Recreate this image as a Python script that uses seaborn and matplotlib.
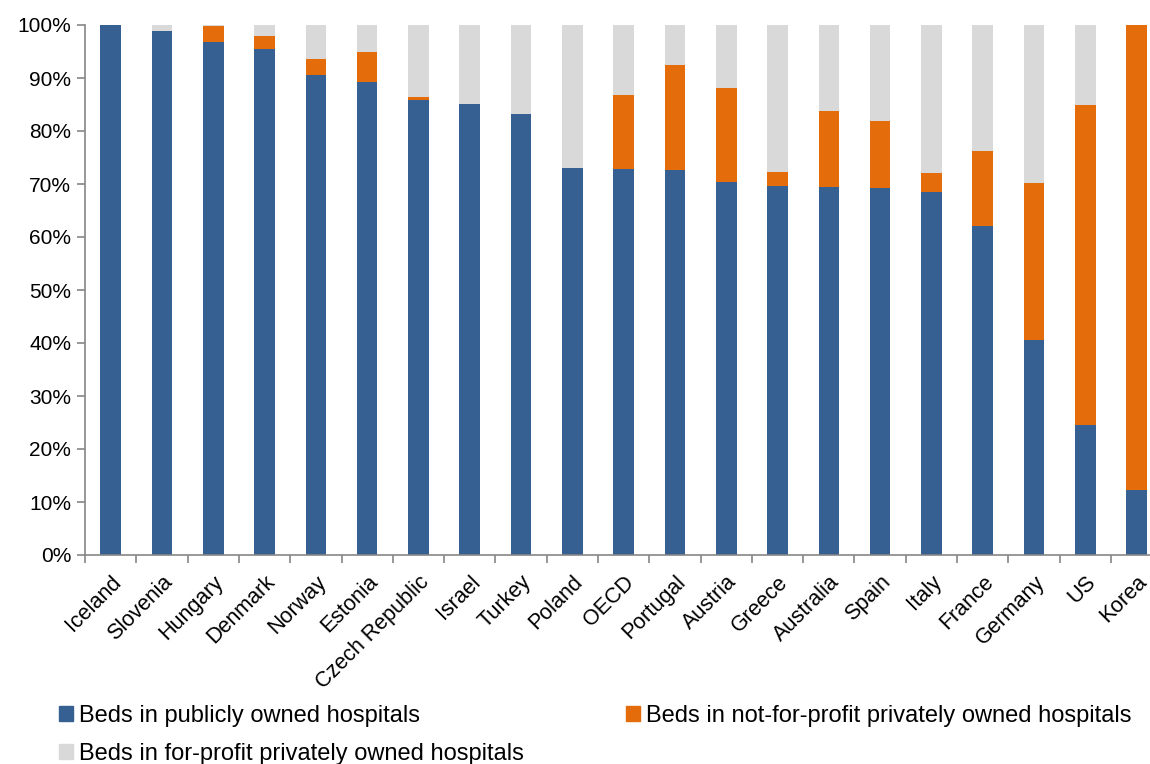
import pandas as pd
import matplotlib.pyplot as plt
import seaborn as sns
from matplotlib.patches import Patch


countries = ['Iceland', 'Slovenia', 'Hungary', 'Denmark', 'Norway', 'Estonia',
             'Czech Republic', 'Israel', 'Turkey', 'Poland', 'OECD', 'Portugal',
             'Austria', 'Greece', 'Australia', 'Spain', 'Italy', 'France',
             'Germany', 'US', 'Korea']
public = [100.0, 98.9, 96.8, 95.5, 90.6, 89.3, 85.8, 85.1, 83.2, 73.1, 72.9, 72.6,
          70.4, 69.6, 69.4, 69.2, 68.5, 62.1, 40.6, 24.5, 12.3]
not_for_profit = [0.0, 0.0, 3.0, 2.4, 3.0, 5.7, 0.6, 0.0, 0.0, 0.0, 13.9, 19.8,
                  17.8, 2.7, 14.3, 12.7, 3.5, 14.2, 29.6, 60.4, 87.7]
for_profit = [0.0, 1.1, 0.2, 2.1, 6.4, 5.0, 13.6, 14.9, 16.8, 26.9, 13.2, 7.6,
              11.8, 27.7, 16.3, 18.1, 28.0, 23.7, 29.8, 15.1, 0.0]

labels = ['Beds in publicly owned hospitals',
          'Beds in not-for-profit privately owned hospitals',
          'Beds in for-profit privately owned hospitals']
colors = ['#366092', '#E46C0A', '#D9D9D9']

df = pd.DataFrame({'country': countries, 'public': public,
                   'nfp': not_for_profit, 'fp': for_profit})
df['top_nfp'] = df['public'] + df['nfp']
df['top_fp'] = df['top_nfp'] + df['fp']

sns.set_style('white')
plt.rcParams['font.family'] = ['Liberation Sans', 'DejaVu Sans']

fig = plt.figure(figsize=(11.5, 7.64), dpi=100)
ax = fig.add_axes([85 / 1150, 1 - 555 / 764, 21 * 51.3 / 1150, 530 / 764])

# stacked look: draw cumulative totals back to front
sns.barplot(data=df, x='country', y='top_fp', color=colors[2], width=0.4,
            saturation=1, ax=ax, linewidth=0)
sns.barplot(data=df, x='country', y='top_nfp', color=colors[1], width=0.4,
            saturation=1, ax=ax, linewidth=0)
sns.barplot(data=df, x='country', y='public', color=colors[0], width=0.4,
            saturation=1, ax=ax, linewidth=0)

ax.set_xlim(-0.5, len(countries) - 0.5)
ax.set_ylim(0, 100)
ax.set_yticks(range(0, 101, 10))
ax.set_yticklabels([f'{v}%' for v in range(0, 101, 10)])
ax.set_xlabel('')
ax.set_ylabel('')

for s in ['top', 'right']:
    ax.spines[s].set_visible(False)
for s in ['left', 'bottom']:
    ax.spines[s].set_color('#868686')
    ax.spines[s].set_linewidth(1.2)

ax.tick_params(axis='y', which='major', direction='out', length=6, width=1.2,
               color='#868686', labelsize=15, labelcolor='black', pad=4, left=True)
ax.set_xticks(range(len(countries)))
ax.set_xticklabels(countries, rotation=45, ha='right', rotation_mode='anchor')
ax.tick_params(axis='x', which='major', length=0, labelsize=15.5,
               labelcolor='black', pad=12)
ax.set_xticks([i + 0.5 for i in range(-1, len(countries))], minor=True)
ax.tick_params(axis='x', which='minor', direction='out', length=6, width=1.2,
               color='#868686', bottom=True)

handles = [Patch(color=colors[0]), Patch(color=colors[2]), Patch(color=colors[1])]
fig.legend(handles, [labels[0], labels[2], labels[1]], ncol=2,
           loc='upper left', bbox_to_anchor=(38 / 1150, 1 - 684 / 764),
           frameon=False, fontsize=17, labelcolor='black',
           handlelength=0.6, handleheight=0.6,
           handletextpad=0.25, columnspacing=4.3, labelspacing=0.66)

fig.savefig('out.png', dpi=100)
